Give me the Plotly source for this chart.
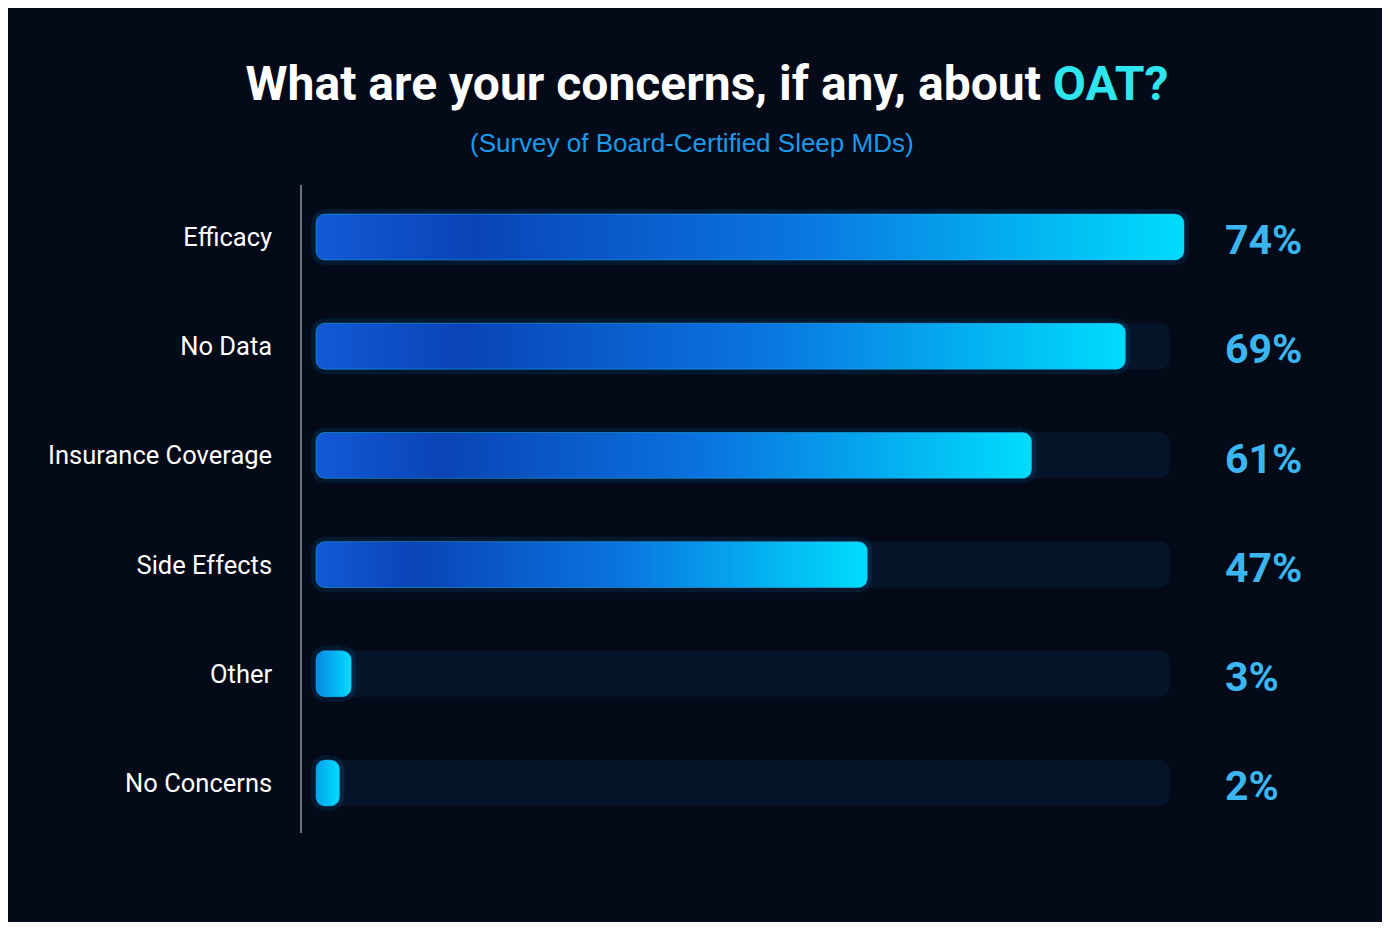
import numpy as np
import plotly.graph_objects as go

# 数据
categories = ["Efficacy", "No Data", "Insurance Coverage", "Side Effects", "Other", "No Concerns"]
values = [74, 69, 61, 47, 3, 2]
value_labels = ["74%", "69%", "61%", "47%", "3%", "2%"]

# 画布与坐标换算（像素，页面本身有 8px 的边距）
OFF = 8
W, H = 1385 - OFF, 922 - OFF
PLOT_L, PLOT_R = 302 - OFF, 1310 - OFF
PLOT_T, PLOT_B = 185 - OFF, 833 - OFF
PX_PER_X = 11.73          # 每 1% 的像素
ZERO_PX = 316 - OFF       # 0% 所在的像素位置
ROW_PX = 109.2            # 每行的像素
FIRST_ROW_PX = 237 - OFF

x_min = -(ZERO_PX - PLOT_L) / PX_PER_X
x_max = x_min + (PLOT_R - PLOT_L) / PX_PER_X
y_top = -(FIRST_ROW_PX - PLOT_T) / ROW_PX
y_bot = y_top + (PLOT_B - PLOT_T) / ROW_PX

BAR_H = 0.42
TRACK_END = 72.8
LABEL_X = 77.3
BG = "#040a18"

bar_scale = [[0, "#1259d6"], [0.18, "#0a44b6"], [0.55, "#0a74e0"], [1, "#00dcfc"]]


def rounded_bar(x1, yc, h, r_px=9, n=8):
    # 圆角矩形的多边形，单位为数据坐标
    rx = min(r_px / PX_PER_X, x1 / 2)
    ry = r_px / ROW_PX
    x0 = 0
    y0, y1 = yc - h / 2, yc + h / 2
    xs, ys = [], []
    corners = [(x1 - rx, y0 + ry, -np.pi / 2, 0),
               (x1 - rx, y1 - ry, 0, np.pi / 2),
               (x0 + rx, y1 - ry, np.pi / 2, np.pi),
               (x0 + rx, y0 + ry, np.pi, 1.5 * np.pi)]
    for cx, cy, a0, a1 in corners:
        t = np.linspace(a0, a1, n)
        xs.extend(cx + rx * np.cos(t))
        ys.extend(cy + ry * np.sin(t))
    xs.append(xs[0])
    ys.append(ys[0])
    return xs, ys


fig = go.Figure()

# 背景轨道
fig.add_trace(go.Bar(
    x=[TRACK_END] * len(categories),
    y=list(range(len(categories))),
    orientation="h",
    width=BAR_H,
    marker=dict(color="#06142a", cornerradius=10, line=dict(width=0)),
    hoverinfo="skip",
    showlegend=False,
))

# 渐变数值条
for i, v in enumerate(values):
    xs, ys = rounded_bar(v, i, BAR_H)
    # 发光
    fig.add_trace(go.Scatter(
        x=xs, y=ys, mode="lines",
        line=dict(color="rgba(0,170,255,0.10)", width=10),
        hoverinfo="skip", showlegend=False,
    ))
    fig.add_trace(go.Scatter(
        x=xs, y=ys, mode="lines", fill="toself",
        fillgradient=dict(type="horizontal", colorscale=bar_scale,
                          start=v - max(v, 8), stop=v),
        line=dict(color="rgba(40,190,255,0.45)", width=1),
        hovertemplate=f"{categories[i]}: {value_labels[i]}<extra></extra>",
        showlegend=False,
    ))

# 百分比标签
for i, lab in enumerate(value_labels):
    fig.add_annotation(
        x=LABEL_X, y=i + 0.03, text=lab, showarrow=False,
        xanchor="left", yanchor="middle",
        font=dict(family="Roboto", size=41, color="#3cb6f0", weight="bold"),
    )

# 副标题
fig.add_annotation(
    xref="paper", yref="paper",
    x=(692 - OFF - PLOT_L) / (PLOT_R - PLOT_L), y=(PLOT_B - (143 - OFF)) / (PLOT_B - PLOT_T),
    text="(Survey of Board-Certified Sleep MDs)", showarrow=False,
    xanchor="center", yanchor="middle",
    font=dict(family="Liberation Sans", size=26, color="#1a9ae8"),
)

fig.update_layout(
    width=W, height=H,
    margin=dict(l=PLOT_L, r=W - PLOT_R, t=PLOT_T, b=H - PLOT_B),
    paper_bgcolor=BG, plot_bgcolor=BG,
    title=dict(
        text="What are your concerns, if any, about <span style='color:#2ee6ee'>OAT?</span>",
        x=(707 - OFF) / W, xanchor="center", y=1 - (83 - OFF) / H, yanchor="middle",
        font=dict(family="Roboto", size=48, color="#ffffff", weight="bold"),
    ),
    xaxis=dict(range=[x_min, x_max], visible=False, fixedrange=True),
    yaxis=dict(
        range=[y_bot, y_top],
        tickvals=list(range(len(categories))), ticktext=categories,
        showline=True, linecolor="#6b7280", linewidth=1.5,
        showgrid=False, zeroline=False, ticks="",
        ticklabelstandoff=23,
        tickfont=dict(family="Roboto", size=25.5, color="#ffffff"),
        fixedrange=True,
    ),
    barmode="overlay",
    showlegend=False,
)

fig.write_html("out.html")
